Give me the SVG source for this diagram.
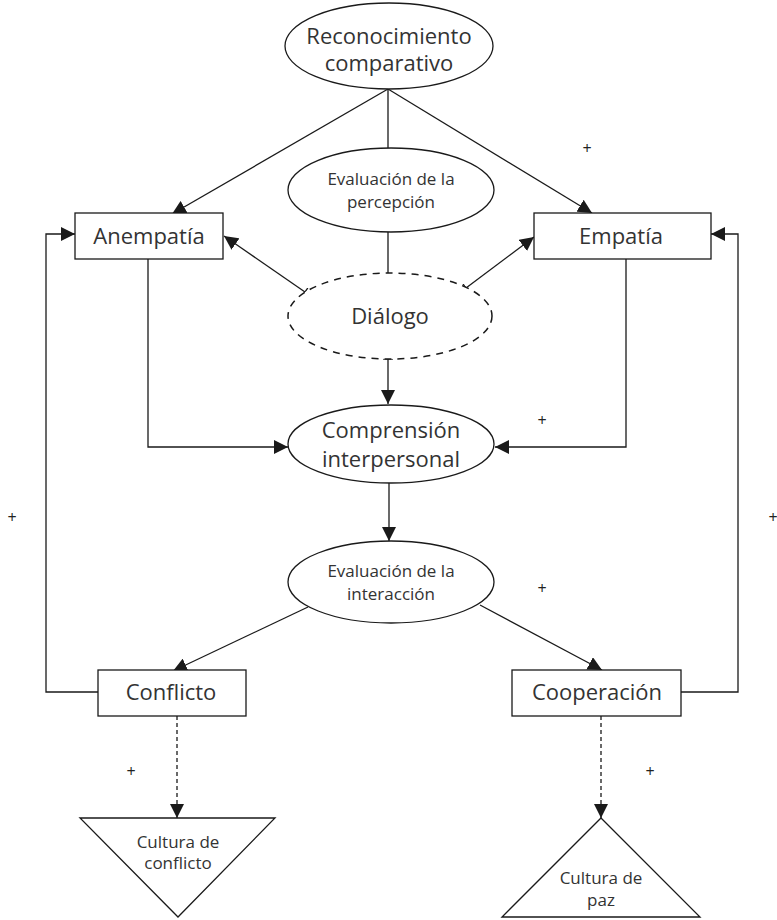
<svg xmlns="http://www.w3.org/2000/svg" width="777" height="920" viewBox="0 0 777 920">
<defs>
<marker id="arr" markerUnits="userSpaceOnUse" markerWidth="16" markerHeight="14" refX="14" refY="7" orient="auto">
<path d="M0,0 L14,7 L0,14 Z" fill="#1a1a1a"/>
</marker>
<marker id="tick" markerUnits="userSpaceOnUse" markerWidth="2" markerHeight="10" refX="1" refY="5" orient="auto">
<path d="M1,0 L1,10" stroke="#1a1a1a" stroke-width="1.3"/>
</marker>
</defs>
<style>
.n{fill:#fff;stroke:#1a1a1a;stroke-width:1.3}
.d{fill:#fff;stroke:#1a1a1a;stroke-width:1.5;stroke-dasharray:7 6}
.c{fill:none;stroke:#1a1a1a;stroke-width:1.3}
.cd{fill:none;stroke:#1a1a1a;stroke-width:1.3;stroke-dasharray:4 3}
text{font-family:"Open Sans","Liberation Sans",sans-serif;fill:#333;text-anchor:middle}
.l{font-size:22px}
.m{font-size:22px}
.s{font-size:17px}
.p{font-size:16px;fill:#222}
</style>
<rect width="777" height="920" fill="#fff"/>
<g id="connectors">
<line class="c" x1="388" y1="89" x2="172" y2="214" marker-end="url(#arr)"/>
<line class="c" x1="388" y1="89" x2="592" y2="213" marker-end="url(#arr)"/>
<line class="c" x1="388" y1="89" x2="388" y2="148"/>
<line class="c" x1="388" y1="232" x2="388" y2="274"/>
<line class="c" x1="305" y1="292" x2="224" y2="236" marker-start="url(#tick)" marker-end="url(#arr)"/>
<line class="c" x1="466" y1="288" x2="534" y2="237" marker-start="url(#tick)" marker-end="url(#arr)"/>
<line class="c" x1="388" y1="359" x2="388" y2="404" marker-start="url(#tick)" marker-end="url(#arr)"/>
<polyline class="c" points="148,259 148,447 288,447" marker-end="url(#arr)"/>
<polyline class="c" points="626,259 626,447 495,447" marker-end="url(#arr)"/>
<line class="c" x1="389" y1="483" x2="389" y2="541" marker-end="url(#arr)"/>
<line class="c" x1="308" y1="607" x2="173" y2="671" marker-end="url(#arr)"/>
<line class="c" x1="480" y1="605" x2="602" y2="670" marker-end="url(#arr)"/>
<polyline class="c" points="98,692 46,692 46,234 75,234" marker-end="url(#arr)"/>
<polyline class="c" points="681,692 738,692 738,234 711,234" marker-end="url(#arr)"/>
<line class="cd" x1="177" y1="716" x2="177" y2="818" marker-end="url(#arr)"/>
<line class="cd" x1="601" y1="716" x2="601" y2="818" marker-end="url(#arr)"/>
<text class="p" x="587" y="154">+</text>
<text class="p" x="542" y="426">+</text>
<text class="p" x="542" y="594">+</text>
<text class="p" x="12" y="523">+</text>
<text class="p" x="773" y="523">+</text>
<text class="p" x="131" y="777">+</text>
<text class="p" x="650" y="777">+</text>
</g>
<g id="reconocimiento">
<ellipse class="n" cx="389" cy="46" rx="104" ry="43"/>
<text class="l" x="389" y="44">Reconocimiento</text>
<text class="l" x="389" y="71">comparativo</text>
</g>
<g id="eval-percepcion">
<ellipse class="n" cx="391" cy="190" rx="103" ry="42"/>
<text class="s" x="391" y="185">Evaluación de la</text>
<text class="s" x="391" y="208">percepción</text>
</g>
<g id="anempatia">
<rect class="n" x="75" y="213" width="148" height="46"/>
<text class="m" x="149" y="244">Anempatía</text>
</g>
<g id="empatia">
<rect class="n" x="534" y="213" width="177" height="46"/>
<text class="m" x="621" y="244">Empatía</text>
</g>
<g id="dialogo">
<ellipse class="d" cx="390" cy="316" rx="102" ry="43"/>
<text class="l" x="390" y="324">Diálogo</text>
</g>
<g id="comprension">
<ellipse class="n" cx="391" cy="444" rx="103" ry="39"/>
<text class="l" x="391" y="438">Comprensión</text>
<text class="l" x="391" y="467">interpersonal</text>
</g>
<g id="eval-interaccion">
<ellipse class="n" cx="391" cy="582" rx="103" ry="41"/>
<text class="s" x="391" y="577">Evaluación de la</text>
<text class="s" x="391" y="600">interacción</text>
</g>
<g id="conflicto">
<rect class="n" x="98" y="670" width="148" height="46"/>
<text class="m" x="171" y="700">Conflicto</text>
</g>
<g id="cooperacion">
<rect class="n" x="512" y="670" width="169" height="46"/>
<text class="m" x="597" y="700">Cooperación</text>
</g>
<g id="cultura-conflicto">
<polygon class="n" points="80,818 275,818 178,917"/>
<text class="s" x="178" y="848">Cultura de</text>
<text class="s" x="178" y="869">conflicto</text>
</g>
<g id="cultura-paz">
<polygon class="n" points="601,818 700,917 502,917"/>
<text class="s" x="601" y="884">Cultura de</text>
<text class="s" x="601" y="906">paz</text>
</g>
</svg>
